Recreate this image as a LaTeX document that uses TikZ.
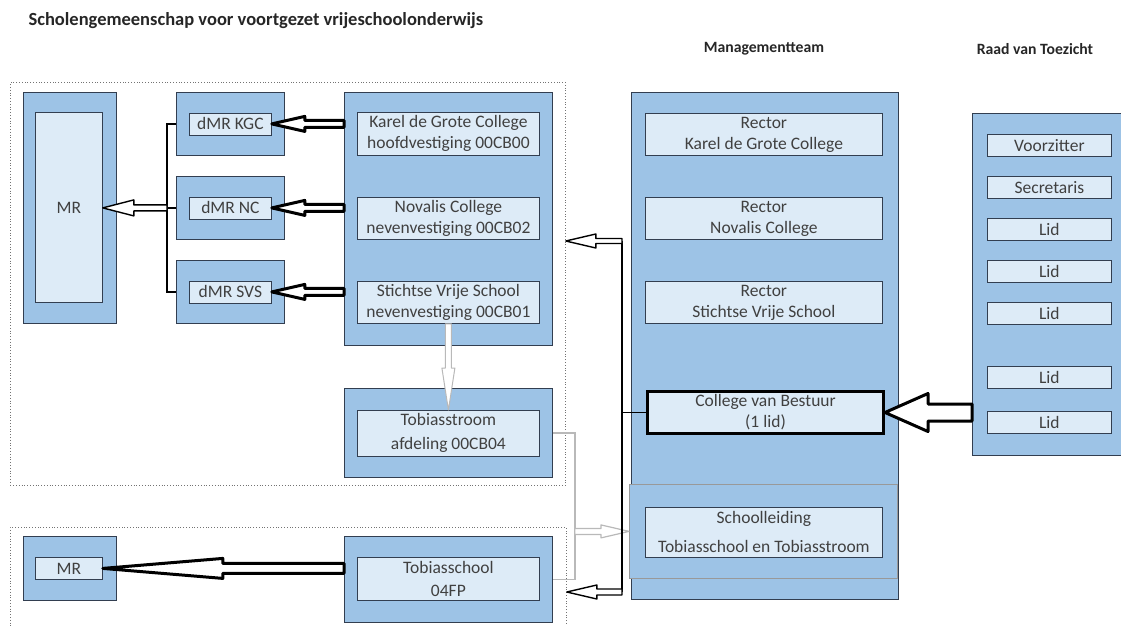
\documentclass[tikz,border=0pt]{standalone}
\usepackage{fontspec}
\setmainfont{Carlito}
\usetikzlibrary{calc}
\definecolor{boxblue}{RGB}{157,195,230}
\definecolor{boxlight}{RGB}{221,235,247}
\definecolor{boxline}{RGB}{50,62,80}
\definecolor{txtgrey}{RGB}{64,64,64}
\definecolor{lightline}{RGB}{185,185,185}

% open block arrow: [style]{from}{to}{shaft half}{head half}{head length}
\newcommand{\blockarrow}[6][]{%
  \coordinate (ba-s) at (#2);
  \coordinate (ba-e) at (#3);
  \coordinate (ba-h) at ($(ba-e)!#6!(ba-s)$);
  \filldraw[fill=white, line join=round, #1] ($(ba-s)!#4!90:(ba-e)$) -- ($(ba-h)!#4!-90:(ba-s)$)
     -- ($(ba-h)!#5!-90:(ba-s)$) -- (ba-e) -- ($(ba-h)!#5!90:(ba-s)$)
     -- ($(ba-h)!#4!90:(ba-s)$) -- ($(ba-s)!#4!-90:(ba-e)$) -- cycle;
}

\begin{document}
\begin{tikzpicture}[x=1pt,y=-1pt]
        \tikzstyle{every node}=[font=\fontsize{17.5}{21}\selectfont, text=txtgrey]
        \tikzstyle{outerbox}=[draw=boxline, fill=boxblue, line width=0.8pt, inner sep=0pt, anchor=north west]
        \tikzstyle{innerbox}=[draw=boxline, fill=boxlight, line width=0.8pt, inner sep=0pt, anchor=north west, align=center]
        \tikzstyle{dotbox}=[draw=gray!90!black, dotted, line width=0.8pt, inner sep=0pt, anchor=north west]
        \tikzstyle{heading}=[font=\fontsize{15.7}{19}\selectfont\bfseries, text=black!85]
        \useasboundingbox (0,0) rectangle (1121,626);

        % headings
        \node[heading, font=\fontsize{18.5}{22}\selectfont\bfseries, anchor=west] (title) at (25,21) {Scholengemeenschap voor voortgezet vrijeschoolonderwijs};
        \node[heading] (mt-title) at (764,49) {Managementteam};
        \node[heading] (rvt-title) at (1035,49) {Raad van Toezicht};

        % groups
        \node[dotbox, minimum width=555pt, minimum height=403pt] (grp1) at (10,82) {};
        \node[dotbox, minimum width=556pt, minimum height=120pt] (grp2) at (10,527) {};

        % medezeggenschap
        \node[outerbox, minimum width=93pt, minimum height=231pt] (mr) at (23,92) {};
        \node[innerbox, minimum width=67pt, minimum height=190pt] (mr-in) at (35,112) {MR};
        \foreach \y/\n/\t in {92/kgc/dMR KGC,176/nc/dMR NC,260/svs/dMR SVS}{
            \node[outerbox, minimum width=108pt, minimum height=63pt] (d\n) at (176,\y) {};
            \node[innerbox, minimum width=82pt, minimum height=22pt, anchor=center] (d\n-in) at (d\n) {\t};
        }

        % scholen
        \node[outerbox, minimum width=208pt, minimum height=253pt] (schools) at (344,92) {};
        \node[innerbox, minimum width=182pt, minimum height=43pt] (kgc) at (357,112) {Karel de Grote College\\hoofdvestiging 00CB00};
        \node[innerbox, minimum width=182pt, minimum height=42pt] (nc) at (357,197) {Novalis College\\nevenvestiging 00CB02};
        \node[innerbox, minimum width=182pt, minimum height=42pt] (svs) at (357,281) {Stichtse Vrije School\\nevenvestiging 00CB01};
        \node[outerbox, minimum width=208pt, minimum height=89pt] (tstroom) at (344,388) {};
        \node[innerbox, minimum width=182pt, minimum height=46pt] (tstroom-in) at (357,410) {Tobiasstroom\\[3pt]afdeling 00CB04};
        \node[outerbox, minimum width=208pt, minimum height=86pt] (tschool) at (344,536) {};
        \node[innerbox, minimum width=182pt, minimum height=43pt] (tschool-in) at (357,557) {Tobiasschool\\[2pt]04FP};
        \node[outerbox, minimum width=93pt, minimum height=64pt] (mrb) at (23,536) {};
        \node[innerbox, minimum width=67pt, minimum height=22pt] (mrb-in) at (35,557) {MR};

        % managementteam
        \node[outerbox, minimum width=267pt, minimum height=507pt] (mt) at (631,92) {};
        \node[innerbox, minimum width=237pt, minimum height=42pt] (rkgc) at (645,113) {Rector\\Karel de Grote College};
        \node[innerbox, minimum width=237pt, minimum height=42pt] (rnc) at (645,197) {Rector\\Novalis College};
        \node[innerbox, minimum width=237pt, minimum height=42pt] (rsvs) at (645,281) {Rector\\Stichtse Vrije School};
        \node[innerbox, line width=3pt, draw=black, minimum width=236pt, minimum height=42pt] (cvb) at (646,390) {College van Bestuur\\(1 lid)};
        \node[outerbox, draw=gray!80, minimum width=268pt, minimum height=94pt] (sl) at (629,484) {};
        \node[innerbox, minimum width=237pt, minimum height=50pt] (sl-in) at (645,507) {Schoolleiding\\[8pt]Tobiasschool en Tobiasstroom};

        % raad van toezicht
        \node[outerbox, minimum width=170pt, minimum height=342pt] (rvt) at (972,113) {};
        \foreach \y/\t in {134/Voorzitter,176/Secretaris,218/Lid,260/Lid,302/Lid,366/Lid,411/Lid}{
            \node[innerbox, minimum width=124pt, minimum height=22pt] (rvt-\y) at (987,\y) {\t};
        }

        % verbindingen
        \draw[line width=1.8pt] (dkgc.west) -- ++(-9,0) coordinate (mrbus) |- (dsvs.west);
        \draw[line width=1.8pt] (dnc.west) -- (dnc.west -| mrbus) coordinate (mrbus2);
        \blockarrow[line width=1.4pt]{mrbus2}{mr-in.east |- mrbus2}{3pt}{8pt}{31pt}
        \foreach \n in {kgc,nc,svs}{
            \blockarrow[line width=3pt]{schools.west |- d\n-in}{d\n-in.east}{3.5pt}{7.5pt}{33pt}
        }
        \blockarrow[line width=3pt]{tschool.west |- mrb-in}{mrb-in.east}{5pt}{10pt}{120pt}
        \blockarrow[draw=lightline, line width=1pt]{svs.south}{tstroom-in.north}{3pt}{6.5pt}{42pt}
        \draw[lightline, line width=1.4pt] (tstroom.east) -- ++(22,0) coordinate (gbus) |- (tschool.east);
        \blockarrow[draw=lightline, line width=1.2pt]{gbus |- sl.west}{sl.west}{3pt}{6.5pt}{28pt}

        \coordinate (mbus1) at (622,241);
        \coordinate (mbus2) at (622,592);
        \draw[line width=1.8pt] (cvb.west) -- (cvb.west -| mbus1);
        \draw[line width=1.8pt] (mbus1) -- (mbus2);
        \blockarrow[line width=1.4pt]{mbus1}{grp1.east |- mbus1}{2.5pt}{7pt}{30pt}
        \blockarrow[line width=1.4pt]{mbus2}{grp2.east |- mbus2}{3pt}{7pt}{30pt}
        \blockarrow[line width=3pt]{rvt.west |- cvb.east}{cvb.east}{8.5pt}{19pt}{43pt}
\end{tikzpicture}
\end{document}
